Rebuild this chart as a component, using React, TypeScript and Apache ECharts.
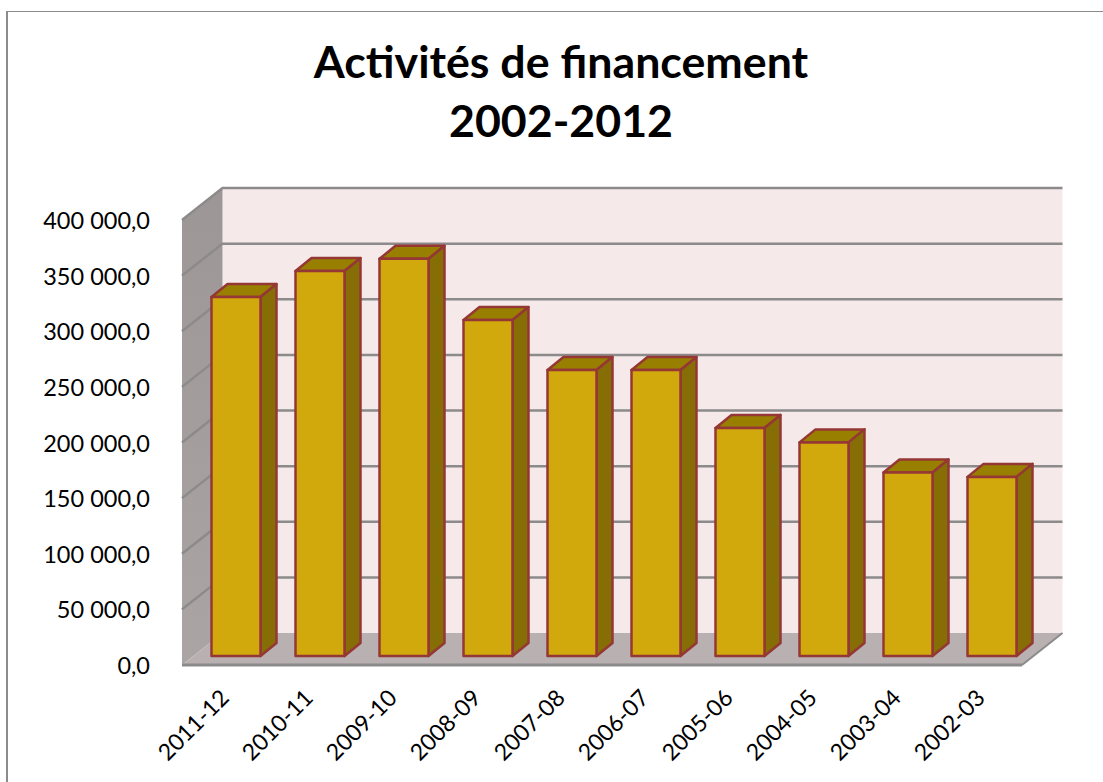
import React, { useEffect, useRef } from "react";
import * as echarts from "echarts";

const titleLines = ["Activités de financement", "2002-2012"];
const categories = ["2011-12", "2010-11", "2009-10", "2008-09", "2007-08", "2006-07", "2005-06", "2004-05", "2003-04", "2002-03"];
const values = [322700, 346000, 357000, 302000, 257000, 257000, 205000, 192000, 165000, 161000];
const gridValues = [50000, 100000, 150000, 200000, 250000, 300000, 350000, 400000];

const WALL_DX = 40.5;
const WALL_DY = -32;
const BAR_DX = 11.5;
const BAR_DY = -9;
const BAR_DEPTH_X = 16;
const BAR_DEPTH_Y = -13;
const BAR_W = 49;
const GRID_COLOR = "#8c8a8a";
const BAR_STROKE = "#953735";

const formatValue = (v: number) => {
  const s = String(Math.round(v)).replace(/\B(?=(\d{3})+$)/g, " ");
  return s + ",0";
};

export default function App() {
  const ref = useRef<HTMLDivElement>(null);
  useEffect(() => {
    const chart = echarts.init(ref.current!, null, { renderer: "svg" });
    const poly = (points: number[][], style: any, z2 = 0) => ({ type: "polygon", z2, shape: { points }, style });
    chart.setOption({
      animation: false,
      backgroundColor: "#ffffff",
      title: {
        text: titleLines.join("\n"),
        left: 556,
        top: 26,
        textAlign: "center",
        textStyle: { fontFamily: "Lato", fontWeight: "bold", fontSize: 44.7, lineHeight: 59, color: "#000000" },
      },
      grid: { left: 182, right: 81, top: 220, bottom: 117 },
      xAxis: {
        type: "category",
        data: categories,
        axisLine: { show: false },
        axisTick: { show: false },
        axisLabel: { rotate: 45, fontFamily: "Lato", fontSize: 23, color: "#000000", margin: 28, interval: 0 },
      },
      yAxis: {
        type: "value",
        min: 0,
        max: 400000,
        interval: 50000,
        axisLine: { show: false },
        axisTick: { show: false },
        splitLine: { show: false },
        axisLabel: { formatter: formatValue, fontFamily: "Lato", fontSize: 23.5, color: "#000000", margin: 32, padding: [2, 0, 0, 0] },
      },
      series: [
        {
          type: "custom",
          coordinateSystem: "cartesian2d",
          silent: true,
          clip: false,
          z: 1,
          data: [[0, 0]],
          renderItem: (params: any) => {
            const r = params.coordSys;
            const l = r.x, t = r.y, b = r.y + r.height, e = r.x + r.width;
            return {
              type: "group",
              children: [
                poly([[l + WALL_DX, t + WALL_DY], [e + WALL_DX, t + WALL_DY], [e + WALL_DX, b + WALL_DY], [l + WALL_DX, b + WALL_DY]], { fill: "#f5e9e9" }),
                poly([[l, t], [l + WALL_DX, t + WALL_DY], [l + WALL_DX, b + WALL_DY], [l, b]], {
                  fill: new echarts.graphic.LinearGradient(0, 0, 0, 1, [
                    { offset: 0, color: "#9c9696" },
                    { offset: 1, color: "#aaa4a4" },
                  ]),
                }),
                poly([[l, b], [e, b], [e + WALL_DX, b + WALL_DY], [l + WALL_DX, b + WALL_DY]], { fill: "#b9b0b1" }),
                { type: "line", shape: { x1: l, y1: b, x2: e, y2: b }, style: { stroke: GRID_COLOR, lineWidth: 3 } },
                { type: "line", shape: { x1: e, y1: b, x2: e + WALL_DX, y2: b + WALL_DY }, style: { stroke: GRID_COLOR, lineWidth: 2 } },
              ],
            };
          },
        },
        {
          type: "custom",
          coordinateSystem: "cartesian2d",
          silent: true,
          clip: false,
          z: 2,
          data: gridValues.map((v) => [0, v]),
          renderItem: (params: any, api: any) => {
            const r = params.coordSys;
            const y = api.coord([0, api.value(1)])[1];
            return {
              type: "polyline",
              shape: { points: [[r.x, y], [r.x + WALL_DX, y + WALL_DY], [r.x + r.width + WALL_DX, y + WALL_DY]] },
              style: { stroke: GRID_COLOR, lineWidth: 2.5, fill: "none" },
            };
          },
        },
        {
          type: "custom",
          coordinateSystem: "cartesian2d",
          silent: true,
          clip: false,
          z: 3,
          data: values.map((v, i) => [i, v]),
          renderItem: (_p: any, api: any) => {
            const i = api.value(0);
            const base = api.coord([i, 0]);
            const top = api.coord([i, api.value(1)]);
            const x0 = base[0] + BAR_DX - BAR_W / 2 + 0.5;
            const x1 = x0 + BAR_W;
            const yb = base[1] + BAR_DY;
            const yt = top[1] + BAR_DY;
            const st = (fill: string) => ({ fill, stroke: BAR_STROKE, lineWidth: 2.5, lineJoin: "round" });
            return {
              type: "group",
              children: [
                poly([[x0, yt], [x1, yt], [x1 + BAR_DEPTH_X, yt + BAR_DEPTH_Y], [x0 + BAR_DEPTH_X, yt + BAR_DEPTH_Y]], st("#997f00")),
                poly([[x1, yt], [x1 + BAR_DEPTH_X, yt + BAR_DEPTH_Y], [x1 + BAR_DEPTH_X, yb + BAR_DEPTH_Y], [x1, yb]], st("#866d06")),
                poly([[x0, yt], [x1, yt], [x1, yb], [x0, yb]], st("#d1a90c")),
              ],
            };
          },
        },
      ],
      graphic: [
        { type: "line", silent: true, shape: { x1: 6, y1: 11.5, x2: 1103, y2: 11.5 }, style: { stroke: GRID_COLOR, lineWidth: 1 } },
        { type: "line", silent: true, shape: { x1: 7, y1: 11, x2: 7, y2: 782 }, style: { stroke: GRID_COLOR, lineWidth: 2 } },
      ],
    });
    return () => chart.dispose();
  }, []);
  return <div ref={ref} style={{ position: "fixed", left: 0, top: 0, width: 1103, height: 782 }} />;
}
